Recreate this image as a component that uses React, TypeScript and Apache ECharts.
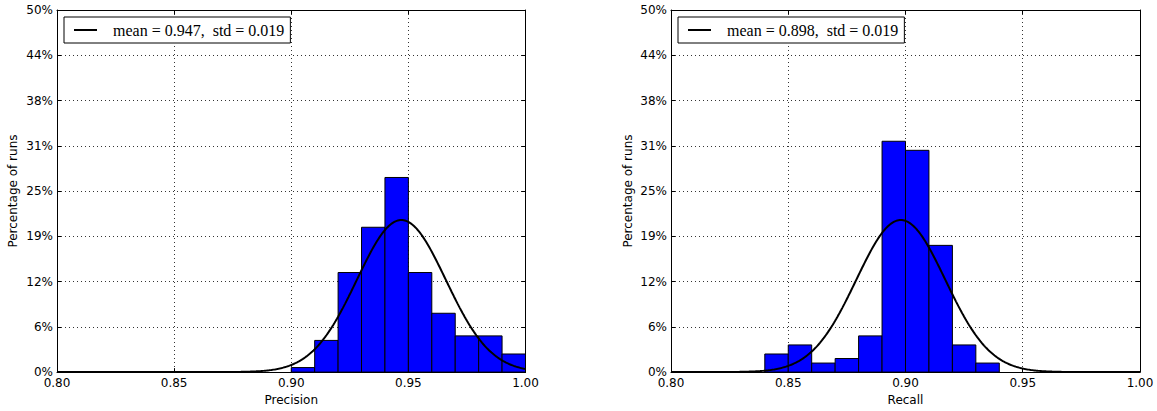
import React, { useEffect, useRef } from "react";
import * as echarts from "echarts";

// ---- data ----
const BIN_WIDTH = 0.01;
const PRECISION_BIN_STARTS = [0.9, 0.91, 0.92, 0.93, 0.94, 0.95, 0.96, 0.97, 0.98, 0.99];
const PRECISION_PCT = [0.625, 4.375, 13.75, 20, 26.875, 13.75, 8.125, 5, 5, 2.5];
const RECALL_BIN_STARTS = [0.84, 0.85, 0.86, 0.87, 0.88, 0.89, 0.9, 0.91, 0.92, 0.93];
const RECALL_PCT = [2.5, 3.75, 1.25, 1.875, 5, 31.875, 30.625, 17.5, 3.75, 1.25];
const PRECISION_MEAN = 0.947;
const PRECISION_STD = 0.019;
const RECALL_MEAN = 0.898;
const RECALL_STD = 0.019;
const PRECISION_LABEL = "mean = 0.947,  std = 0.019";
const RECALL_LABEL = "mean = 0.898,  std = 0.019";
const X_TICK_LABELS = ["0.80", "0.85", "0.90", "0.95", "1.00"];
const Y_TICK_LABELS = ["0%", "6%", "12%", "19%", "25%", "31%", "38%", "44%", "50%"];
const X_MIN = 0.8;
const X_MAX = 1.0;
const X_STEP = 0.05;
const Y_MIN = 0;
const Y_MAX = 50;
const Y_STEP = 6.25;

// fitted normal curve (as drawn in the reference: pdf scaled by bin width, in %)
function normalCurve(mean: number, std: number): number[][] {
  const pts: number[][] = [];
  for (let i = 0; i <= 400; i++) {
    const x = X_MIN + (i * (X_MAX - X_MIN)) / 400;
    const pdf = Math.exp(-((x - mean) ** 2) / (2 * std * std)) / (std * Math.sqrt(2 * Math.PI));
    pts.push([x, pdf * BIN_WIDTH * 100]);
  }
  return pts;
}

const FONT = "'DejaVu Sans', sans-serif";

function histData(starts: number[], pct: number[]) {
  return starts.map((s, i) => [s, s + BIN_WIDTH, pct[i]]);
}

const renderBar = (params: any, api: any) => {
  const p0 = api.coord([api.value(0), api.value(2)]);
  const p1 = api.coord([api.value(1), 0]);
  return {
    type: "rect",
    shape: { x: p0[0], y: p0[1], width: p1[0] - p0[0], height: p1[1] - p0[1] },
    style: { fill: "#0000ff", stroke: "#000000", lineWidth: 1 },
  };
};

function xAxes(gridIndex: number, name: string) {
  const base = {
    type: "value",
    gridIndex,
    min: X_MIN,
    max: X_MAX,
    interval: X_STEP,
    axisLine: { show: true, onZero: false, lineStyle: { color: "#000", width: 1 } },
    axisTick: { show: true, inside: true, length: 4, lineStyle: { color: "#000" } },
  };
  return [
    {
      ...base,
      position: "bottom",
      name,
      nameLocation: "middle",
      nameGap: 21,
      nameTextStyle: { fontFamily: FONT, fontSize: 12, color: "#000" },
      axisLabel: {
        show: true,
        margin: 5,
        fontFamily: FONT,
        fontSize: 12,
        color: "#000",
        formatter: (v: number) => X_TICK_LABELS[Math.round((v - X_MIN) / X_STEP)] ?? "",
      },
      splitLine: { show: true, lineStyle: { color: "#000", width: 0.8, type: [1, 3] } },
    },
    {
      ...base,
      position: "top",
      axisLabel: { show: false },
      splitLine: { show: false },
    },
  ];
}

function yAxes(gridIndex: number, nameGap: number) {
  const base = {
    type: "value",
    gridIndex,
    min: Y_MIN,
    max: Y_MAX,
    interval: Y_STEP,
    axisLine: { show: true, onZero: false, lineStyle: { color: "#000", width: 1 } },
    axisTick: { show: true, inside: true, length: 4, lineStyle: { color: "#000" } },
  };
  return [
    {
      ...base,
      position: "left",
      name: "Percentage of runs",
      nameLocation: "middle",
      nameGap,
      nameTextStyle: { fontFamily: FONT, fontSize: 12, color: "#000" },
      axisLabel: {
        show: true,
        margin: 4,
        fontFamily: FONT,
        fontSize: 12,
        color: "#000",
        formatter: (v: number) => Y_TICK_LABELS[Math.round(v / Y_STEP)] ?? "",
      },
      splitLine: { show: true, lineStyle: { color: "#000", width: 0.8, type: [1, 3] } },
    },
    {
      ...base,
      position: "right",
      axisLabel: { show: false },
      splitLine: { show: false },
    },
  ];
}

function legendFor(name: string, left: number) {
  return {
    data: [{ name, icon: "rect" }],
    left,
    top: 17,
    orient: "horizontal",
    backgroundColor: "#ffffff",
    borderColor: "#000000",
    borderWidth: 1,
    borderRadius: 0,
    padding: [5, 6, 5, 10],
    itemWidth: 23,
    itemHeight: 2,
    selectedMode: false,
    itemStyle: { color: "#000", borderWidth: 0 },
    textStyle: {
      fontFamily: "'Liberation Serif', 'DejaVu Serif', serif",
      fontSize: 16,
      lineHeight: 16,
      color: "#000",
      padding: [0, 0, 0, 11],
    },
  };
}

export default function App() {
  const ref = useRef<HTMLDivElement>(null);
  useEffect(() => {
    if (!ref.current) return;
    const chart = echarts.init(ref.current, undefined, { renderer: "svg" });
    const option: any = {
      animation: false,
      backgroundColor: "#ffffff",
      grid: [
        { left: 57, top: 10, width: 468.5, height: 362.3, containLabel: false },
        { left: 671, top: 10, width: 469, height: 362.3, containLabel: false },
      ],
      legend: [legendFor(PRECISION_LABEL, 64), legendFor(RECALL_LABEL, 678)],
      xAxis: [...xAxes(0, "Precision"), ...xAxes(1, "Recall")],
      yAxis: [...yAxes(0, 38), ...yAxes(1, 37)],
      series: [
        {
          name: "precision-hist",
          type: "custom",
          xAxisIndex: 0,
          yAxisIndex: 0,
          renderItem: renderBar,
          encode: { x: [0, 1], y: 2 },
          data: histData(PRECISION_BIN_STARTS, PRECISION_PCT),
          z: 2,
        },
        {
          name: PRECISION_LABEL,
          type: "line",
          xAxisIndex: 0,
          yAxisIndex: 0,
          symbol: "none",
          showSymbol: false,
          lineStyle: { color: "#000", width: 2 },
          itemStyle: { color: "#000" },
          data: normalCurve(PRECISION_MEAN, PRECISION_STD),
          z: 3,
        },
        {
          name: "recall-hist",
          type: "custom",
          xAxisIndex: 2,
          yAxisIndex: 2,
          renderItem: renderBar,
          encode: { x: [0, 1], y: 2 },
          data: histData(RECALL_BIN_STARTS, RECALL_PCT),
          z: 2,
        },
        {
          name: RECALL_LABEL,
          type: "line",
          xAxisIndex: 2,
          yAxisIndex: 2,
          symbol: "none",
          showSymbol: false,
          lineStyle: { color: "#000", width: 2 },
          itemStyle: { color: "#000" },
          data: normalCurve(RECALL_MEAN, RECALL_STD),
          z: 3,
        },
      ],
    };
    chart.setOption(option);
    return () => chart.dispose();
  }, []);
  return (
    <div
      ref={ref}
      style={{ position: "absolute", left: 0, top: 0, width: 1157, height: 411, background: "#fff" }}
    />
  );
}
